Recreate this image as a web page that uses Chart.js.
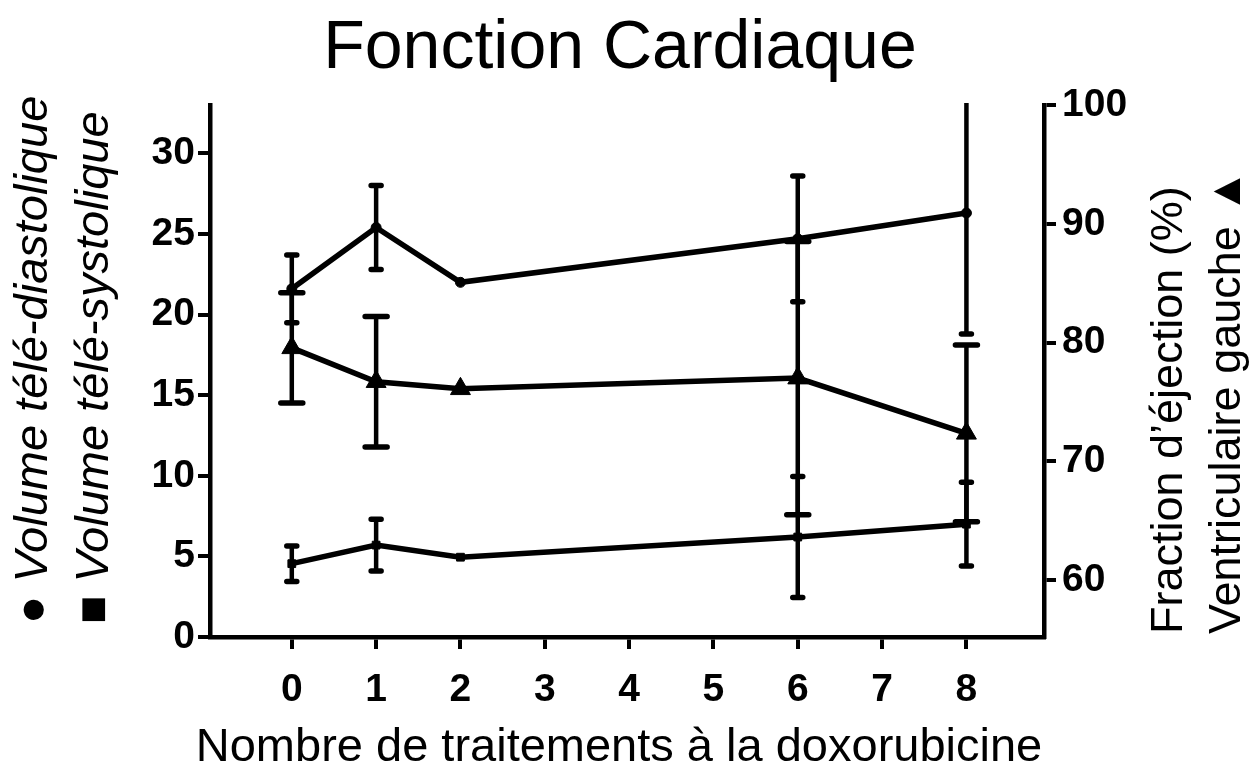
<!DOCTYPE html>
<html lang="fr">
<head>
<meta charset="utf-8">
<title>Fonction Cardiaque</title>
<script src="https://cdn.jsdelivr.net/npm/chart.js@4"></script>
<style>
  html, body { margin: 0; padding: 0; background: #fff; }
  #wrap { width: 1259px; height: 763px; }
</style>
</head>
<body>
<div id="wrap"><canvas id="myChart" width="1259" height="763"></canvas></div>
<script>
// nombre de traitements
const traitements = [0, 1, 2, 6, 8]

// volumes (axe de gauche)
const diastolique = [21.6, 25.4, 22.0, 24.7, 26.3]
const diastoliqueErr = [2.1, 2.6, 0, 3.9, 7.5]
const systolique = [4.55, 5.7, 4.95, 6.2, 7.0]
const systoliqueErr = [1.1, 1.6, 0, 3.75, 2.6]

// fraction d'éjection (axe de droite)
const fraction = [79.55, 76.7, 76.1, 77.0, 72.35]
const fractionErr = [4.65, 5.5, 0, 11.5, 7.45]

const xTicks = [0, 1, 2, 3, 4, 5, 6, 7, 8]
const yTicks = [0, 5, 10, 15, 20, 25, 30]
const y1Ticks = [60, 70, 80, 90, 100]

const pts = (vals) => traitements.map((t, i) => ({ x: t, y: vals[i] }))

const serie = (vals, errs, axis, style, radius, capWidth) => ({
    data: pts(vals),
    errors: errs,
    capWidth: capWidth,
    yAxisID: axis,
    borderColor: '#000',
    backgroundColor: '#000',
    borderWidth: 5.5,
    pointStyle: style,
    pointRadius: radius,
    pointBorderWidth: 1,
    pointBackgroundColor: '#000',
    tension: 0
})

// barres d'erreur dessinées avec les échelles du graphique
const errorBars = {
    id: 'errorBars',
    beforeDatasetsDraw(chart) {
        const ctx = chart.ctx
        const area = chart.chartArea
        const xs = chart.scales.x
        ctx.save()
        ctx.beginPath()
        ctx.rect(area.left, area.top - 2, area.right - area.left, area.bottom - area.top + 2)
        ctx.clip()
        ctx.strokeStyle = '#000'
        chart.data.datasets.forEach(ds => {
            const ys = chart.scales[ds.yAxisID]
            ds.data.forEach((p, i) => {
                const e = ds.errors[i]
                if (!e) return
                const px = xs.getPixelForValue(p.x)
                const top = ys.getPixelForValue(p.y + e)
                const bot = ys.getPixelForValue(p.y - e)
                ctx.lineWidth = 4.5
                ctx.lineCap = 'butt'
                ctx.beginPath()
                ctx.moveTo(px, top)
                ctx.lineTo(px, bot)
                ctx.stroke()
                ctx.lineWidth = 5.5
                ctx.lineCap = 'round'
                const w = ds.capWidth / 2 - 2.5
                ctx.beginPath()
                ctx.moveTo(px - w, top)
                ctx.lineTo(px + w, top)
                ctx.moveTo(px - w, bot)
                ctx.lineTo(px + w, bot)
                ctx.stroke()
            })
        })
        ctx.restore()
    }
}

// titres et légendes des axes
const textes = {
    id: 'textes',
    afterDraw(chart) {
        const ctx = chart.ctx
        ctx.save()
        ctx.fillStyle = '#000'
        ctx.textBaseline = 'alphabetic'

        ctx.textAlign = 'center'
        ctx.font = '68px "Liberation Sans", Arial, sans-serif'
        ctx.fillText('Fonction Cardiaque', 620, 68)
        ctx.font = '47px "Liberation Sans", Arial, sans-serif'
        ctx.fillText('Nombre de traitements à la doxorubicine', 619, 761)

        ctx.textAlign = 'left'
        ctx.textBaseline = 'middle'
        const vertical = (txt, x, y, font) => {
            ctx.save()
            ctx.translate(x, y)
            ctx.rotate(-Math.PI / 2)
            ctx.font = font
            ctx.fillText(txt, 0, 0)
            ctx.restore()
        }
        const italique = 'italic 47px "Liberation Sans", "DejaVu Sans", sans-serif'
        const droit = '45px "Liberation Sans", "DejaVu Sans", sans-serif'
        vertical('● Volume télé-diastolique', 34, 624, italique)
        vertical('■ Volume télé-systolique', 95, 624, italique)
        vertical('Fraction d’éjection (%)', 1170, 634, droit)
        vertical('Ventriculaire gauche ▲', 1228, 634, droit)
        ctx.restore()
    }
}

const axe = {
    grid: { drawOnChartArea: false, drawTicks: true, tickLength: 12, tickWidth: 4, tickColor: '#000', color: '#000', lineWidth: 4 },
    border: { display: true, width: 4.5, color: '#000' },
    ticks: { color: '#000', font: { family: '"Liberation Sans", Arial, sans-serif', size: 39, weight: 'bold' } }
}

const ctx = document.getElementById('myChart').getContext('2d')
const myChart = new Chart(ctx, {
    type: 'line',
    data: {
        datasets: [
            serie(diastolique, diastoliqueErr, 'y', 'circle', 5, 15),
            serie(systolique, systoliqueErr, 'y', 'rect', 5.5, 15),
            serie(fraction, fractionErr, 'y1', 'triangle', 11.5, 27)
        ]
    },
    plugins: [errorBars, textes],
    options: {
        responsive: false,
        animation: false,
        layout: { padding: { top: 105, left: 0, right: 0, bottom: 0 } },
        plugins: { legend: { display: false }, tooltip: { enabled: false }, title: { display: false } },
        scales: {
            x: {
                type: 'linear', min: -0.97, max: 8.92,
                ...axe,
                ticks: { ...axe.ticks, padding: 18, maxRotation: 0 },
                afterBuildTicks: s => { s.ticks = xTicks.map(v => ({ value: v })) },
                afterFit: s => { s.height = 126 }
            },
            y: {
                type: 'linear', position: 'left', min: 0, max: 33,
                ...axe,
                ticks: { ...axe.ticks, padding: 3 },
                afterBuildTicks: s => { s.ticks = yTicks.map(v => ({ value: v })) },
                afterFit: s => { s.width = 210 }
            },
            y1: {
                type: 'linear', position: 'right', min: 55.2, max: 100,
                ...axe,
                ticks: { ...axe.ticks, padding: 6 },
                afterBuildTicks: s => { s.ticks = y1Ticks.map(v => ({ value: v })) },
                afterFit: s => { s.width = 215 }
            }
        }
    }
})
</script>
</body>
</html>
